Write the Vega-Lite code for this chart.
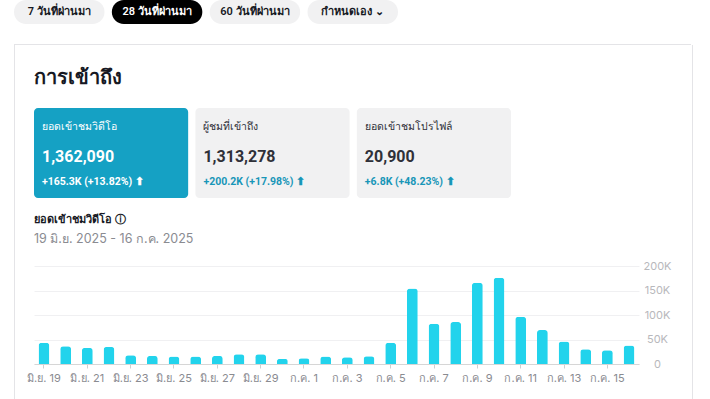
{
  "$schema": "https://vega.github.io/schema/vega-lite/v6.json",
  "background": "white",
  "padding": {"left": 14, "top": 0, "right": 0, "bottom": 0},
  "config": {
    "view": {"stroke": null},
    "font": "Inter",
    "title": {"anchor": "start", "color": "#161823"}
  },
  "spacing": 20,
  "vconcat": [
    {
      "width": 384,
      "height": 24,
      "data": {"values": [
        {"tab": "7 วันที่ผ่านมา", "selected": "no"},
        {"tab": "28 วันที่ผ่านมา", "selected": "yes"},
        {"tab": "60 วันที่ผ่านมา", "selected": "no"},
        {"tab": "กำหนดเอง ⌄", "selected": "no"}
      ]},
      "encoding": {
        "x": {"field": "tab", "type": "nominal", "sort": null, "axis": null,
              "scale": {"paddingInner": 0.075, "paddingOuter": 0}}
      },
      "layer": [
        {"mark": {"type": "rect", "cornerRadius": 12},
         "encoding": {"color": {"field": "selected", "type": "nominal", "legend": null,
           "scale": {"domain": ["no", "yes"], "range": ["#f1f1f2", "#000000"]}}}},
        {"mark": {"type": "text", "fontSize": 11, "fontWeight": 600, "font": "Roboto"},
         "encoding": {"text": {"field": "tab"},
           "color": {"field": "selected", "type": "nominal", "legend": null,
             "scale": {"domain": ["no", "yes"], "range": ["#161823", "#ffffff"]}}}}
      ],
      "resolve": {"scale": {"color": "independent"}}
    },
    {
      "spacing": 0,
      "vconcat": [
        {
          "width": 677,
          "height": 1,
          "view": {"fill": "#e4e4e7"},
          "data": {"values": [{"k": 1}]},
          "mark": {"type": "rect", "opacity": 0},
          "encoding": {}
        },
        {
          "spacing": 21,
          "hconcat": [
            {
              "spacing": 11,
              "hconcat": [
                {
                  "width": 1,
                  "height": 360,
                  "view": {"fill": "#e4e4e7"},
                  "data": {"values": [{"k": 1}]},
                  "mark": {"type": "rect", "opacity": 0},
                  "encoding": {}
                },
                {
                  "spacing": 22,
                  "vconcat": [
                    {
                      "width": 1,
                      "height": 1,
                      "data": {"values": [{"k": 1}]},
                      "mark": {"type": "rect", "opacity": 0},
                      "encoding": {}
                    },
                    {
                      "spacing": 15,
                      "vconcat": [
                        {
                          "title": {"text": "การเข้าถึง", "fontSize": 20, "fontWeight": "bold", "offset": 20},
                          "width": 477,
                          "height": 90,
                          "data": {"values": [
                            {"card": "ยอดเข้าชมวิดีโอ", "total": "1,362,090", "change": "+165.3K (+13.82%) ⬆", "selected": "yes"},
                            {"card": "ผู้ชมที่เข้าถึง", "total": "1,313,278", "change": "+200.2K (+17.98%) ⬆", "selected": "no"},
                            {"card": "ยอดเข้าชมโปรไฟล์", "total": "20,900", "change": "+6.8K (+48.23%) ⬆", "selected": "no"}
                          ]},
                          "encoding": {
                            "x": {"field": "card", "type": "nominal", "sort": null, "axis": null,
                                  "scale": {"paddingInner": 0.045, "paddingOuter": 0}}
                          },
                          "layer": [
                            {"mark": {"type": "rect", "cornerRadius": 4},
                             "encoding": {"color": {"field": "selected", "type": "nominal", "legend": null,
                               "scale": {"domain": ["no", "yes"], "range": ["#f1f1f2", "#15a1c4"]}}}},
                            {"mark": {"type": "text", "fontSize": 10.5, "align": "left", "dx": 8, "dy": 2},
                             "encoding": {
                               "x": {"field": "card", "type": "nominal", "sort": null, "bandPosition": 0},
                               "y": {"datum": "label", "type": "nominal", "axis": null,
                                     "scale": {"type": "point", "domain": ["label", "total", "change"], "padding": 0.6}},
                               "text": {"field": "card"},
                               "color": {"field": "selected", "type": "nominal", "legend": null,
                                 "scale": {"domain": ["no", "yes"], "range": ["#2f3038", "#ffffff"]}}}},
                            {"mark": {"type": "text", "fontSize": 16, "fontWeight": "bold", "font": "Roboto", "align": "left", "dx": 8, "dy": 4},
                             "encoding": {
                               "x": {"field": "card", "type": "nominal", "sort": null, "bandPosition": 0},
                               "y": {"datum": "total", "type": "nominal"},
                               "text": {"field": "total"},
                               "color": {"field": "selected", "type": "nominal", "legend": null,
                                 "scale": {"domain": ["no", "yes"], "range": ["#2f3038", "#ffffff"]}}}},
                            {"mark": {"type": "text", "fontSize": 10.5, "fontWeight": "bold", "font": "Roboto", "align": "left", "dx": 8, "dy": 1},
                             "encoding": {
                               "x": {"field": "card", "type": "nominal", "sort": null, "bandPosition": 0},
                               "y": {"datum": "change", "type": "nominal"},
                               "text": {"field": "change"},
                               "color": {"field": "selected", "type": "nominal", "legend": null,
                                 "scale": {"domain": ["no", "yes"], "range": ["#1896b8", "#ffffff"]}}}}
                          ],
                          "resolve": {"scale": {"color": "independent"}}
                        },
                        {
                          "title": {"text": "ยอดเข้าชมวิดีโอ ⓘ", "fontSize": 11, "fontWeight": "bold", "frame": "group",
                                    "subtitle": "19 มิ.ย. 2025 - 16 ก.ค. 2025", "subtitleFontSize": 12.5,
                                    "subtitleColor": "#8a8b91", "subtitlePadding": 8, "offset": 15},
                          "width": 605,
                          "height": 98,
                          "data": {"values": [
                            {"d": "มิ.ย. 19", "v": 43200}, {"d": "มิ.ย. 20", "v": 36300},
                            {"d": "มิ.ย. 21", "v": 32900}, {"d": "มิ.ย. 22", "v": 34900},
                            {"d": "มิ.ย. 23", "v": 17800}, {"d": "มิ.ย. 24", "v": 16400},
                            {"d": "มิ.ย. 25", "v": 15100}, {"d": "มิ.ย. 26", "v": 15100},
                            {"d": "มิ.ย. 27", "v": 16400}, {"d": "มิ.ย. 28", "v": 19900},
                            {"d": "มิ.ย. 29", "v": 19900}, {"d": "มิ.ย. 30", "v": 10300},
                            {"d": "ก.ค. 1", "v": 11600}, {"d": "ก.ค. 2", "v": 15100},
                            {"d": "ก.ค. 3", "v": 13700}, {"d": "ก.ค. 4", "v": 15800},
                            {"d": "ก.ค. 5", "v": 43200}, {"d": "ก.ค. 6", "v": 154000},
                            {"d": "ก.ค. 7", "v": 82200}, {"d": "ก.ค. 8", "v": 85600},
                            {"d": "ก.ค. 9", "v": 165800}, {"d": "ก.ค. 10", "v": 176000},
                            {"d": "ก.ค. 11", "v": 96600}, {"d": "ก.ค. 12", "v": 69200},
                            {"d": "ก.ค. 13", "v": 45900}, {"d": "ก.ค. 14", "v": 30100},
                            {"d": "ก.ค. 15", "v": 28100}, {"d": "ก.ค. 16", "v": 37700}
                          ]},
                          "mark": {"type": "bar", "color": "#22d3ec", "cornerRadiusTopLeft": 3, "cornerRadiusTopRight": 3},
                          "encoding": {
                            "x": {"field": "d", "type": "nominal", "sort": null, "title": null,
                                  "scale": {"paddingInner": 0.5, "paddingOuter": 0.21},
                                  "axis": {"values": ["มิ.ย. 19", "มิ.ย. 21", "มิ.ย. 23", "มิ.ย. 25", "มิ.ย. 27", "มิ.ย. 29", "ก.ค. 1", "ก.ค. 3", "ก.ค. 5", "ก.ค. 7", "ก.ค. 9", "ก.ค. 11", "ก.ค. 13", "ก.ค. 15"],
                                           "labelAngle": 0, "labelColor": "#8a8b91", "labelFontSize": 11,
                                           "labelPadding": 4, "domainColor": "#d6d6d6", "tickColor": "#cfcfcf",
                                           "tickSize": 4, "grid": false}},
                            "y": {"field": "v", "type": "quantitative", "title": null,
                                  "scale": {"domain": [0, 200000]},
                                  "axis": {"orient": "right", "values": [0, 50000, 100000, 150000, 200000],
                                           "labelExpr": "datum.value == 0 ? '0' : (datum.value / 1000) + 'K'",
                                           "labelColor": "#b8b8bc", "labelFontSize": 11, "labelAlign": "center",
                                           "labelPadding": 18, "domain": false, "ticks": false,
                                           "gridColor": "#f0f0f2"}}
                          }
                        }
                      ]
                    }
                  ]
                }
              ]
            },
            {
              "width": 1,
              "height": 360,
              "view": {"fill": "#e4e4e7"},
              "data": {"values": [{"k": 1}]},
              "mark": {"type": "rect", "opacity": 0},
              "encoding": {}
            }
          ]
        }
      ]
    }
  ]
}
